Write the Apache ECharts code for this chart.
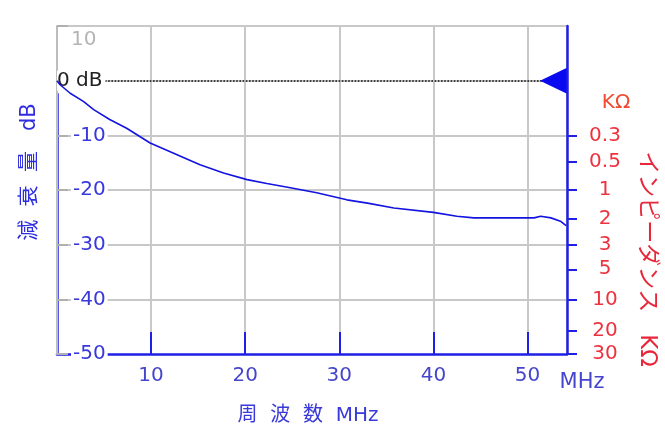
<!DOCTYPE html>
<html><head><meta charset="utf-8">
<script src="https://cdn.jsdelivr.net/npm/echarts@6/dist/echarts.min.js"></script>
<style>html,body{margin:0;padding:0;background:#fff}#c{width:665px;height:427px}</style>
</head><body><div id="c"></div>
<script>
// Frequency (MHz) and attenuation (dB)
const freqMHz = [0, 0.3, 1.4, 2.8, 3.9, 5.6, 7.4, 9.9, 12.7, 15.2, 17.7, 20.2, 22.3, 24.8, 27.6, 30.8, 33.0, 35.8, 40.0, 42.5, 44.3, 50.7, 51.4, 52.5, 53.5, 54.1];
const attenDb = [0, -0.7, -2.3, -3.8, -5.3, -7.1, -8.7, -11.4, -13.5, -15.4, -16.9, -18.1, -18.8, -19.6, -20.5, -21.8, -22.4, -23.3, -24.1, -24.8, -25.1, -25.1, -24.8, -25.1, -25.7, -26.5];
// Right axis: impedance tick labels (KΩ) and their positions on the dB scale
const impedanceLabels = ['0.3', '0.5', '1', '2', '3', '5', '10', '20', '30'];
const impedanceDbPos = [-10, -14.8, -20, -25.3, -30, -34.5, -40, -45.7, -50];
const dbRange = [-50, 10];
const freqRange = [0, 54.2];
const refLevelDb = 0;

const FONT = 'DejaVu Sans';
const CJK = '"DejaVu Sans","Noto Sans CJK JP"';
const BLUE = '#1f1fe6';
const GRID = '#c8c8c8';

const chart = echarts.init(document.getElementById('c'), null, {renderer: 'canvas'});
chart.setOption({
  animation: false,
  grid: {left: 57, right: 98, top: 26, bottom: 73},
  xAxis: {
    type: 'value', min: freqRange[0], max: freqRange[1], interval: 10, z: 4,
    axisLine: {onZero: false, lineStyle: {color: BLUE, width: 2.5}},
    axisTick: {inside: true, length: 22, lineStyle: {color: BLUE, width: 2}},
    axisLabel: {showMinLabel: false, showMaxLabel: false, margin: 12, color: '#4646cc', fontSize: 20, fontFamily: FONT},
    splitLine: {show: true, lineStyle: {color: GRID, width: 2}}
  },
  yAxis: [{
    type: 'value', min: dbRange[0], max: dbRange[1], interval: 10, position: 'left', z: 5,
    axisLine: {show: true, onZero: false, lineStyle: {color: '#bdbdbd', width: 2}},
    axisTick: {show: true, inside: true, length: 11, lineStyle: {color: '#b0b0b0', width: 2}},
    axisLabel: {
      inside: true, margin: 14,
      formatter: v => v === 0 ? '' : (v === dbRange[1] ? '{t|' + v + '}' : '{n|' + v + '}'),
      rich: {
        n: {color: '#3838dc', backgroundColor: '#fff', padding: [0, 2, 0, 2], fontSize: 20, fontFamily: FONT},
        t: {color: '#b4b4b4', padding: [28, 0, 0, 0], fontSize: 20, fontFamily: FONT}
      }
    },
    splitLine: {show: true, showMinLine: false, lineStyle: {color: GRID, width: 2}}
  }, {
    type: 'value', min: dbRange[0], max: dbRange[1], position: 'right', z: 5,
    axisLine: {show: true, onZero: false, lineStyle: {color: BLUE, width: 2.5}},
    axisTick: {show: true, customValues: impedanceDbPos, length: 10, lineStyle: {color: BLUE, width: 2}},
    axisLabel: {
      customValues: impedanceDbPos, margin: 38, align: 'center', color: '#ee3340', fontSize: 20, fontFamily: FONT,
      formatter: v => {
        let best = 0;
        impedanceDbPos.forEach((p, i) => { if (Math.abs(p - v) < Math.abs(impedanceDbPos[best] - v)) best = i; });
        return impedanceLabels[best];
      }
    },
    splitLine: {show: false}
  }],
  series: [{
    type: 'line', yAxisIndex: 0, z: 10,
    data: freqMHz.map((f, i) => [f, attenDb[i]]),
    showSymbol: false, symbol: 'none',
    lineStyle: {color: '#1414e0', width: 1.6},
    markLine: {
      silent: true, symbol: ['none', 'none'], animation: false,
      label: {show: false},
      data: [
        [{coord: [freqRange[0], refLevelDb],
          lineStyle: {type: 'dotted', color: '#111', width: 1.6},
          label: {show: true, position: 'insideStart', distance: 0, formatter: '0 dB', color: '#222', fontSize: 20, fontFamily: FONT, backgroundColor: '#fff', padding: [0, 3, 0, 0]}},
         {coord: [freqRange[1], refLevelDb]}],
        [{coord: [freqRange[0], -2.3], lineStyle: {type: 'solid', color: BLUE, width: 2.5}, label: {show: false}},
         {coord: [freqRange[0], dbRange[0]]}]
      ]
    },
    markPoint: {
      silent: true, animation: false,
      data: [{coord: [freqRange[1], refLevelDb], symbol: 'triangle', symbolRotate: 90, symbolSize: [26, 27], symbolOffset: [-13.5, 0], itemStyle: {color: '#0a0af0'}, label: {show: false}}]
    }
  }],
  graphic: [
    {type: 'text', x: 616, y: 103, style: {text: 'KΩ', fill: '#f04a30', fontSize: 20, fontFamily: FONT, align: 'center', verticalAlign: 'middle'}},
    {type: 'text', x: 582, y: 383, style: {text: 'MHz', fill: '#4646cc', fontSize: 21, fontFamily: FONT, align: 'center', verticalAlign: 'middle'}},
    {type: 'text', x: 308, y: 416, style: {text: '周  波  数  MHz', fill: '#3a3ad8', fontSize: 20, fontFamily: CJK, align: 'center', verticalAlign: 'middle'}},
    {type: 'text', x: 30, y: 172, rotation: Math.PI / 2, style: {text: '減  衰  量   dB', fill: '#2e2ee0', fontSize: 21, fontFamily: CJK, align: 'center', verticalAlign: 'middle'}},
    {type: 'text', x: 647, y: 259, rotation: -Math.PI / 2, style: {text: 'インピーダンス   KΩ', fill: '#e8283a', fontSize: 23, fontFamily: CJK, align: 'center', verticalAlign: 'middle'}}
  ]
});
</script></body></html>
